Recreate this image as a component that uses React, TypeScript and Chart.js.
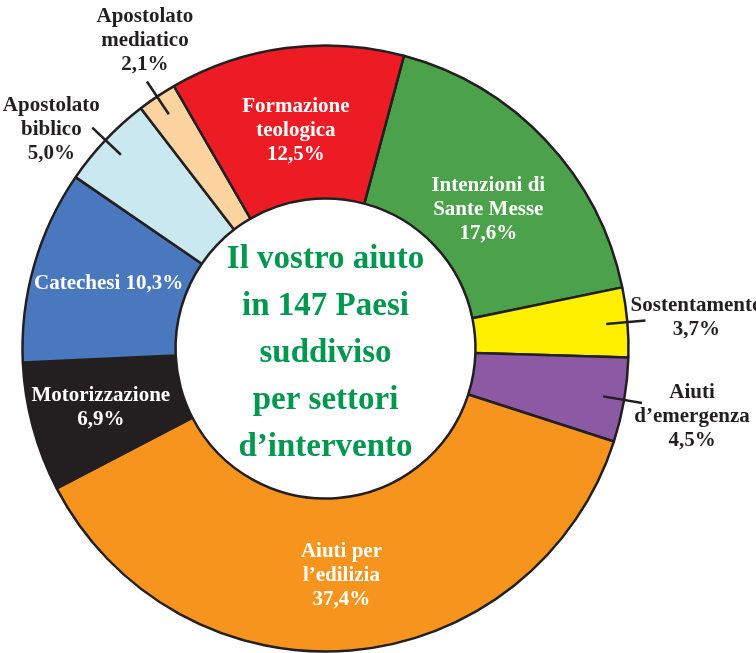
import React, { useEffect, useRef } from "react";
import { Chart, registerables } from "chart.js";

Chart.register(...registerables);

// ---- Data ----
const categories = [
  "Intenzioni di Sante Messe",
  "Sostentamento",
  "Aiuti d’emergenza",
  "Aiuti per l’edilizia",
  "Motorizzazione",
  "Catechesi",
  "Apostolato biblico",
  "Apostolato mediatico",
  "Formazione teologica",
];
const shares = [17.6, 3.7, 4.5, 37.4, 6.9, 10.3, 5.0, 2.1, 12.5];
const labelLines = [
  ["Intenzioni di", "Sante Messe"],
  ["Sostentamento"],
  ["Aiuti", "d’emergenza"],
  ["Aiuti per", "l’edilizia"],
  ["Motorizzazione"],
  ["Catechesi"],
  ["Apostolato", "biblico"],
  ["Apostolato", "mediatico"],
  ["Formazione", "teologica"],
];
const centerTitle = ["Il vostro aiuto", "in 147 Paesi", "suddiviso", "per settori", "d’intervento"];

// ---- Styling / layout (not data) ----
const sliceColors = [
  "#4BA24A",
  "#FFF000",
  "#8C5AA5",
  "#F7941E",
  "#231F20",
  "#4A78BE",
  "#C9E8F0",
  "#FDD39F",
  "#ED1C24",
];
// placement: "in" = inside ring, "inline" = single-line inside, "out" = leader line outside
const placement = ["in", "out", "out", "in", "in", "inline", "out", "out", "in"];
// small pixel nudges of the text block relative to its anchor
const nudgeX = [-2, 51, 50, -3, -6, 1, -41, -2, 0];
const nudgeY = [16, -3, 14, 1, 0, -3, 2, -41, 7];

const FONT = '"Liberation Serif", "Times New Roman", serif';
const DARK = "#231F20";
const GREEN = "#00984F";

const pct = (v: number) => v.toFixed(1).replace(".", ",") + "%";

const labelPlugin = {
  id: "sectorLabels",
  afterDatasetsDraw(chart: any) {
    const ctx = chart.ctx as CanvasRenderingContext2D;
    const meta = chart.getDatasetMeta(0);
    ctx.save();
    ctx.textAlign = "center";
    ctx.textBaseline = "middle";
    const lh = 24;
    meta.data.forEach((arc: any, i: number) => {
      const p = arc.getProps(["x", "y", "startAngle", "endAngle", "innerRadius", "outerRadius"], true);
      const mid = (p.startAngle + p.endAngle) / 2;
      let lines: string[];
      if (placement[i] === "inline") lines = [labelLines[i].join(" ") + " " + pct(shares[i])];
      else lines = [...labelLines[i], pct(shares[i])];
      let ax: number, ay: number;
      if (placement[i] === "out") {
        const r1 = p.outerRadius * 0.93;
        const r2 = p.outerRadius * 1.06;
        const x1 = p.x + Math.cos(mid) * r1;
        const y1 = p.y + Math.sin(mid) * r1;
        const x2 = p.x + Math.cos(mid) * r2;
        const y2 = p.y + Math.sin(mid) * r2;
        ctx.strokeStyle = DARK;
        ctx.lineWidth = 2.5;
        ctx.beginPath();
        ctx.moveTo(x1, y1);
        ctx.lineTo(x2, y2);
        ctx.stroke();
        ax = x2;
        ay = y2;
        ctx.fillStyle = DARK;
      } else {
        const c = arc.getCenterPoint(true);
        ax = c.x;
        ay = c.y;
        ctx.fillStyle = "#FFFFFF";
      }
      const cx = ax + nudgeX[i];
      const cy = ay + nudgeY[i];
      ctx.font = `bold 21px ${FONT}`;
      lines.forEach((t, k) => {
        ctx.fillText(t, cx, cy + (k - (lines.length - 1) / 2) * lh);
      });
    });
    // center title
    const first = meta.data[0];
    if (first) {
      const p = first.getProps(["x", "y"], true);
      ctx.fillStyle = GREEN;
      ctx.font = `bold 33px ${FONT}`;
      ctx.textBaseline = "alphabetic";
      const clh = 47;
      centerTitle.forEach((t, k) => {
        ctx.fillText(t, p.x, p.y + 13 + (k - (centerTitle.length - 1) / 2) * clh);
      });
    }
    ctx.restore();
  },
};

export default function App() {
  const ref = useRef<HTMLCanvasElement | null>(null);
  useEffect(() => {
    if (!ref.current) return;
    const chart = new Chart(ref.current, {
      type: "doughnut",
      data: {
        labels: categories,
        datasets: [
          {
            data: shares,
            backgroundColor: sliceColors,
            borderColor: DARK,
            borderWidth: 2.5,
            borderAlign: "center",
          },
        ],
      },
      options: {
        responsive: false,
        animation: false,
        rotation: 15,
        radius: 303,
        cutout: "49.5%",
        layout: { padding: { left: 0, right: 105, top: 44, bottom: 0 } },
        plugins: {
          legend: { display: false },
          tooltip: { enabled: false },
        },
      } as any,
      plugins: [labelPlugin],
    });
    return () => chart.destroy();
  }, []);
  return (
    <div style={{ position: "absolute", left: 0, top: 0, width: 756, height: 653, background: "#fff" }}>
      <canvas ref={ref} width={756} height={653} style={{ display: "block" }} />
    </div>
  );
}
